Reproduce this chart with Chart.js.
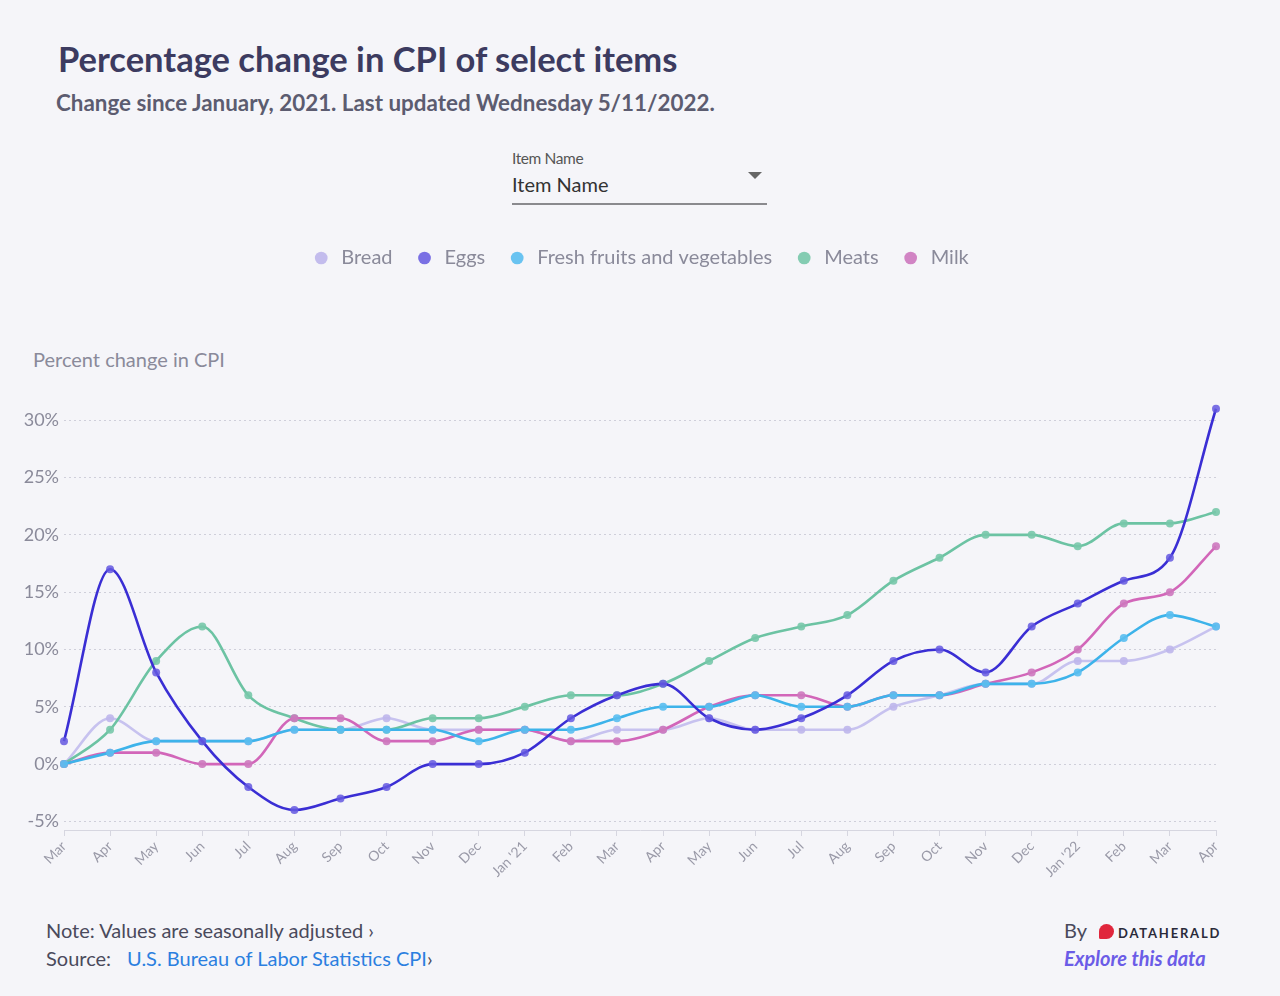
<!DOCTYPE html>
<html>
<head>
    <meta charset="UTF-8">
    <title>Percentage change in CPI of select items</title>
    <script src="https://cdn.jsdelivr.net/npm/chart.js@4.4.1/dist/chart.umd.min.js"></script>
    <style type="text/css">
        html, body { margin: 0; padding: 0; }
        body {
            width: 1280px; height: 996px; position: relative; overflow: hidden;
            background: #f5f5f9; font-family: Lato, "Open Sans", sans-serif;
        }
        #title { position: absolute; left: 58px; top: 38px; font-size: 34.5px; font-weight: bold; color: #3c3b60; }
        #subtitle { position: absolute; left: 56px; top: 89px; font-size: 22.4px; font-weight: bold; color: #5c5c70; }
        #dd_label { position: absolute; left: 512px; top: 149px; font-size: 15.5px; color: #555; letter-spacing: -0.4px; }
        #dd_value { position: absolute; left: 512px; top: 172px; font-size: 20px; color: #333; }
        #dd_line { position: absolute; left: 512px; top: 203px; width: 255px; height: 2px; background: #8a8a8e; }
        #dd_caret { position: absolute; left: 748px; top: 172px; width: 0; height: 0;
            border-left: 7px solid transparent; border-right: 7px solid transparent; border-top: 7px solid #666; }
        #ytitle { position: absolute; left: 33px; top: 347px; font-size: 20px; color: #8a8a9a; }
        #wrap { position: absolute; left: 0; top: 226px; width: 1280px; height: 674px; }
        .foot { position: absolute; font-size: 20px; color: #4a4a5c; }
        #note { left: 46px; top: 918px; }
        #source { left: 46px; top: 946px; }
        #source a { color: #2b7fe0; text-decoration: none; margin-left: 16px; }
        #by { left: 1064px; top: 918px; }
        #by b { font-size: 13px; letter-spacing: 1.8px; color: #2a2a3a; margin-left: 4px; }
        #by i { display: inline-block; width: 15px; height: 15px; border-radius: 50% 50% 50% 10%; background: #e0263c; margin-left: 12px; vertical-align: -1px; }
        #explore { left: 1064px; top: 946px; color: #6b5ce7; font-style: italic; font-weight: bold; }
    </style>
</head>
<body>
    <div id="title">Percentage change in CPI of select items</div>
    <div id="subtitle">Change since January, 2021. Last updated Wednesday 5/11/2022.</div>
    <div id="dd_label">Item Name</div>
    <div id="dd_value">Item Name</div>
    <div id="dd_caret"></div>
    <div id="dd_line"></div>
    <div id="ytitle">Percent change in CPI</div>
    <div id="wrap"><canvas id="_canvas"></canvas></div>
    <div class="foot" id="note">Note: Values are seasonally adjusted &rsaquo;</div>
    <div class="foot" id="source">Source:<a>U.S. Bureau of Labor Statistics CPI</a>&rsaquo;</div>
    <div class="foot" id="by">By<i></i><b>DATAHERALD</b></div>
    <div class="foot" id="explore">Explore this data</div>

    <script type="text/javascript">
        // months, Mar 2020 .. Apr 2022
        var months = ["Mar", "Apr", "May", "Jun", "Jul", "Aug", "Sep", "Oct", "Nov", "Dec", "Jan '21",
            "Feb", "Mar", "Apr", "May", "Jun", "Jul", "Aug", "Sep", "Oct", "Nov", "Dec", "Jan '22",
            "Feb", "Mar", "Apr"];

        var bread = [0, 4, 2, 2, 2, 3, 3, 4, 3, 3, 3, 2, 3, 3, 4, 3, 3, 3, 5, 6, 7, 7, 9, 9, 10, 12];
        var eggs = [2, 17, 8, 2, -2, -4, -3, -2, 0, 0, 1, 4, 6, 7, 4, 3, 4, 6, 9, 10, 8, 12, 14, 16, 18, 31];
        var fresh = [0, 1, 2, 2, 2, 3, 3, 3, 3, 2, 3, 3, 4, 5, 5, 6, 5, 5, 6, 6, 7, 7, 8, 11, 13, 12];
        var meats = [0, 3, 9, 12, 6, 4, 3, 3, 4, 4, 5, 6, 6, 7, 9, 11, 12, 13, 16, 18, 20, 20, 19, 21, 21, 22];
        var milk = [0, 1, 1, 0, 0, 4, 4, 2, 2, 3, 3, 2, 2, 3, 5, 6, 6, 5, 6, 6, 7, 8, 10, 14, 15, 19];

        var yTicks = [-5, 0, 5, 10, 15, 20, 25, 30];

        function series(name, data, color, dot, order) {
            return {
                label: name,
                data: data,
                borderColor: color,
                backgroundColor: color,
                borderWidth: 2.6,
                pointRadius: 4,
                pointBorderWidth: 0,
                pointBackgroundColor: dot,
                cubicInterpolationMode: "monotone",
                order: order
            };
        }

        Chart.defaults.font.family = "Lato";

        // extra room under the legend
        var legendGap = {
            id: "legendGap",
            beforeInit: function (chart) {
                var fit = chart.legend.fit;
                chart.legend.fit = function () {
                    fit.bind(chart.legend)();
                    this.height += 117;
                };
            }
        };

        var ctx = document.getElementById("_canvas").getContext("2d");
        var LineChart = new Chart(ctx, {
            type: "line",
            data: {
                labels: months,
                datasets: [
                    series("Bread", bread, "#c7c2ef", "rgba(190,182,235,0.9)", 4),
                    series("Eggs", eggs, "#3a2ed4", "rgba(100,88,225,0.85)", 0),
                    series("Fresh fruits and vegetables", fresh, "#3db3ea", "rgba(90,190,240,0.9)", 1),
                    series("Meats", meats, "#6cc3a3", "rgba(120,200,170,0.9)", 3),
                    series("Milk", milk, "#d266b9", "rgba(205,120,190,0.9)", 2)
                ]
            },
            options: {
                responsive: true,
                maintainAspectRatio: false,
                animation: false,
                layout: { padding: 0 },
                plugins: {
                    legend: {
                        labels: {
                            usePointStyle: true,
                            pointStyle: "circle",
                            boxWidth: 20,
                            boxHeight: 9,
                            padding: 22,
                            color: "#8a8a9a",
                            font: { size: 20 },
                            sort: function (a, b) { return a.datasetIndex - b.datasetIndex; }
                        }
                    },
                    tooltip: { enabled: false }
                },
                scales: {
                    x: {
                        grid: { drawOnChartArea: false, drawTicks: true, tickLength: 6, color: "#d6d6e0" },
                        border: { display: true, color: "#d6d6e0" },
                        ticks: { minRotation: 45, maxRotation: 45, autoSkip: false, color: "#9a9aa8", font: { size: 14 }, padding: 2 },
                        afterFit: function (s) { s.height = 70; }
                    },
                    y: {
                        min: -5.75,
                        max: 32.2,
                        grid: { color: "#cfcfda", drawTicks: false, lineWidth: 1 },
                        border: { display: false, dash: [2, 3] },
                        ticks: {
                            color: "#8a8a9a",
                            font: { size: 18 },
                            padding: 5,
                            callback: function (v) { return v + "%"; }
                        },
                        afterBuildTicks: function (s) {
                            s.ticks = yTicks.map(function (v) { return { value: v }; });
                        },
                        afterFit: function (s) { s.width = 64; }
                    },
                    y2: {
                        position: "right",
                        min: 0,
                        max: 1,
                        grid: { display: false },
                        border: { display: false },
                        ticks: { display: false },
                        afterFit: function (s) { s.width = 64; }
                    }
                }
            },
            plugins: [legendGap]
        });
    </script>
</body>
</html>
